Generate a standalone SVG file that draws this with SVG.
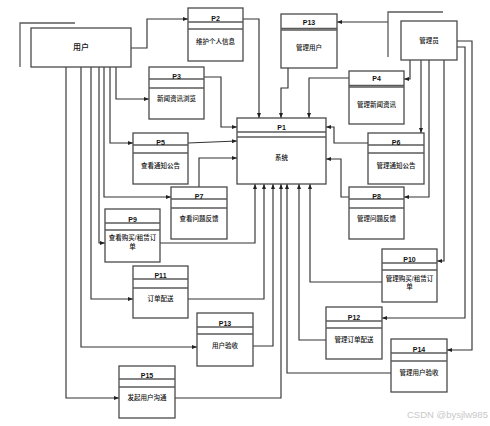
<svg xmlns="http://www.w3.org/2000/svg" width="490" height="426" viewBox="0 0 490 426">
<style>
.bg{fill:#fff}
.box{fill:#fff;stroke:#4a4a4a;stroke-width:1.3}
.hl{stroke:#5a5a5a;stroke-width:1.4}
.sh{fill:none;stroke:#5a5a5a;stroke-width:1.3}
.c{fill:none;stroke:#333;stroke-width:1.15;marker-end:url(#ah)}
.t{font-family:"Liberation Sans","Noto Sans CJK SC",sans-serif;font-size:6.5px;fill:#111;text-anchor:middle;font-weight:500}
.lb{font-family:"Liberation Sans","Noto Sans CJK SC",sans-serif;font-size:7px;fill:#111;text-anchor:middle;font-weight:bold}
.ent{font-family:"Liberation Sans","Noto Sans CJK SC",sans-serif;font-size:8px;fill:#111;text-anchor:middle;font-weight:500}
.wm{font-family:"Liberation Sans","Noto Sans CJK SC",sans-serif;font-size:9.5px;fill:#c8c8c8}
</style>
<defs>
<marker id="ah" markerWidth="5" markerHeight="4" refX="5" refY="2" orient="auto" markerUnits="userSpaceOnUse">
<path d="M0,0 L5,2 L0,4 Z" fill="#222"/>
</marker>
</defs>
<rect class="bg" x="0" y="0" width="490" height="426"/>

<g id="connectors">
<path class="c" d="M131,48 H147 V19 H188"/>
<path class="c" d="M243,19 H259 V118"/>
<path class="c" d="M116,67 V99 H149"/>
<path class="c" d="M204,77 H221 V127 H237"/>
<path class="c" d="M110,67 V143 H133"/>
<path class="c" d="M104,67 V197 H171"/>
<path class="c" d="M99,67 V243 H105"/>
<path class="c" d="M91,67 V299 H133"/>
<path class="c" d="M81,67 V347 H197"/>
<path class="c" d="M66,67 V398 H119"/>
<path class="c" d="M188,143 L237,141"/>
<path class="c" d="M199,187 V158 H237"/>
<path class="c" d="M160,243 H255 V184"/>
<path class="c" d="M188,299 H264 V184"/>
<path class="c" d="M253,346 H273 V184"/>
<path class="c" d="M175,398 H281 V184"/>
<path class="c" d="M391,373 H287 V184"/>
<path class="c" d="M326,340 H299 V184"/>
<path class="c" d="M382,282 H310 V184"/>
<path class="c" d="M349,197 H341 V159 H326"/>
<path class="c" d="M368,143 H334 V127 H326"/>
<path class="c" d="M349,78 H309 V118"/>
<path class="c" d="M288,68 V88 H281 V118"/>
<path class="c" d="M388,22 H337"/>
<path class="c" d="M410,60 V79 H404"/>
<path class="c" d="M421,60 V133"/>
<path class="c" d="M429,60 V197 H404"/>
<path class="c" d="M444,60 V261 H437"/>
<path class="c" d="M457,41 H472 V350 H447"/>
<path class="c" d="M457,47 H465 V318 H382"/>
</g>

<g id="user">
<path class="sh" d="M20,67 V23 H75"/>
<rect class="box" x="31" y="28" width="100" height="39"/>
<text class="ent" x="81" y="50">用户</text>
</g>
<g id="admin">
<path class="sh" d="M388,57 V12 H443"/>
<rect class="box" x="401" y="21" width="56" height="39"/>
<text class="t" x="429" y="43">管理员</text>
</g>

<g id="P2">
<rect class="box" x="188" y="8" width="55" height="53"/>
<line class="hl" x1="188" y1="22" x2="243" y2="22"/><line class="hl" x1="188" y1="29" x2="243" y2="29"/>
<text class="lb" x="215.5" y="21">P2</text>
<text class="t" x="215.5" y="44">维护个人信息</text>
</g>
<g id="P13a">
<rect class="box" x="281" y="14" width="56" height="54"/>
<line class="hl" x1="281" y1="28.5" x2="337" y2="28.5"/><line class="hl" x1="281" y1="30" x2="337" y2="30"/>
<text class="lb" x="309" y="25">P13</text>
<text class="t" x="309" y="50">管理用户</text>
</g>
<g id="P3">
<rect class="box" x="149" y="67" width="55" height="52"/>
<line class="hl" x1="149" y1="79" x2="204" y2="79"/><line class="hl" x1="149" y1="88" x2="204" y2="88"/>
<text class="lb" x="176.5" y="79">P3</text>
<text class="t" x="176.5" y="101">新闻资讯浏览</text>
</g>
<g id="P4">
<rect class="box" x="349" y="71" width="55" height="53"/>
<line class="hl" x1="349" y1="85.5" x2="404" y2="85.5"/><line class="hl" x1="349" y1="87" x2="404" y2="87"/>
<text class="lb" x="376.5" y="81">P4</text>
<text class="t" x="376.5" y="107">管理新闻资讯</text>
</g>
<g id="P1">
<rect class="box" x="237" y="118" width="89" height="66"/>
<line class="hl" x1="237" y1="132" x2="326" y2="132"/><line class="hl" x1="237" y1="137" x2="326" y2="137"/>
<text class="lb" x="281.5" y="130">P1</text>
<text class="t" x="281.5" y="160">系统</text>
</g>
<g id="P5">
<rect class="box" x="133" y="133" width="55" height="51"/>
<line class="hl" x1="133" y1="145" x2="188" y2="145"/><line class="hl" x1="133" y1="153" x2="188" y2="153"/>
<text class="lb" x="160.5" y="145">P5</text>
<text class="t" x="160.5" y="168">查看通知公告</text>
</g>
<g id="P6">
<rect class="box" x="368" y="133" width="56" height="51"/>
<line class="hl" x1="368" y1="145" x2="424" y2="145"/><line class="hl" x1="368" y1="153" x2="424" y2="153"/>
<text class="lb" x="396" y="145">P6</text>
<text class="t" x="396" y="168">管理通知公告</text>
</g>
<g id="P7">
<rect class="box" x="171" y="187" width="56" height="52"/>
<line class="hl" x1="171" y1="199" x2="227" y2="199"/><line class="hl" x1="171" y1="208" x2="227" y2="208"/>
<text class="lb" x="199" y="199">P7</text>
<text class="t" x="199" y="221">查看问题反馈</text>
</g>
<g id="P8">
<rect class="box" x="349" y="187" width="55" height="52"/>
<line class="hl" x1="349" y1="199" x2="404" y2="199"/><line class="hl" x1="349" y1="208" x2="404" y2="208"/>
<text class="lb" x="376.5" y="199">P8</text>
<text class="t" x="376.5" y="221">管理问题反馈</text>
</g>
<g id="P9">
<rect class="box" x="105" y="209" width="55" height="53"/>
<line class="hl" x1="105" y1="223" x2="160" y2="223"/><line class="hl" x1="105" y1="230" x2="160" y2="230"/>
<text class="lb" x="132.5" y="222">P9</text>
<text class="t" x="132.5" y="240">查看购买/租赁订</text>
<text class="t" x="132.5" y="249">单</text>
</g>
<g id="P10">
<rect class="box" x="382" y="249" width="55" height="53"/>
<line class="hl" x1="382" y1="263" x2="437" y2="263"/><line class="hl" x1="382" y1="270" x2="437" y2="270"/>
<text class="lb" x="409.5" y="262">P10</text>
<text class="t" x="409.5" y="281">管理购买/租赁订</text>
<text class="t" x="409.5" y="289">单</text>
</g>
<g id="P11">
<rect class="box" x="133" y="266" width="55" height="52"/>
<line class="hl" x1="133" y1="279" x2="188" y2="279"/><line class="hl" x1="133" y1="288" x2="188" y2="288"/>
<text class="lb" x="160.5" y="278">P11</text>
<text class="t" x="160.5" y="301">订单配送</text>
</g>
<g id="P12">
<rect class="box" x="326" y="307" width="56" height="52"/>
<line class="hl" x1="326" y1="321" x2="382" y2="321"/><line class="hl" x1="326" y1="328" x2="382" y2="328"/>
<text class="lb" x="354" y="320">P12</text>
<text class="t" x="354" y="342">管理订单配送</text>
</g>
<g id="P13b">
<rect class="box" x="197" y="313" width="56" height="53"/>
<line class="hl" x1="197" y1="327" x2="253" y2="327"/><line class="hl" x1="197" y1="334" x2="253" y2="334"/>
<text class="lb" x="225" y="326">P13</text>
<text class="t" x="225" y="348">用户验收</text>
</g>
<g id="P14">
<rect class="box" x="391" y="339" width="56" height="53"/>
<line class="hl" x1="391" y1="353" x2="447" y2="353"/><line class="hl" x1="391" y1="361" x2="447" y2="361"/>
<text class="lb" x="419" y="352">P14</text>
<text class="t" x="419" y="375">管理用户验收</text>
</g>
<g id="P15">
<rect class="box" x="119" y="366" width="56" height="52"/>
<line class="hl" x1="119" y1="379" x2="175" y2="379"/><line class="hl" x1="119" y1="387" x2="175" y2="387"/>
<text class="lb" x="147" y="378">P15</text>
<text class="t" x="147" y="400">发起用户沟通</text>
</g>
<text class="wm" x="407" y="418">CSDN @bysjlw985</text>
</svg>
